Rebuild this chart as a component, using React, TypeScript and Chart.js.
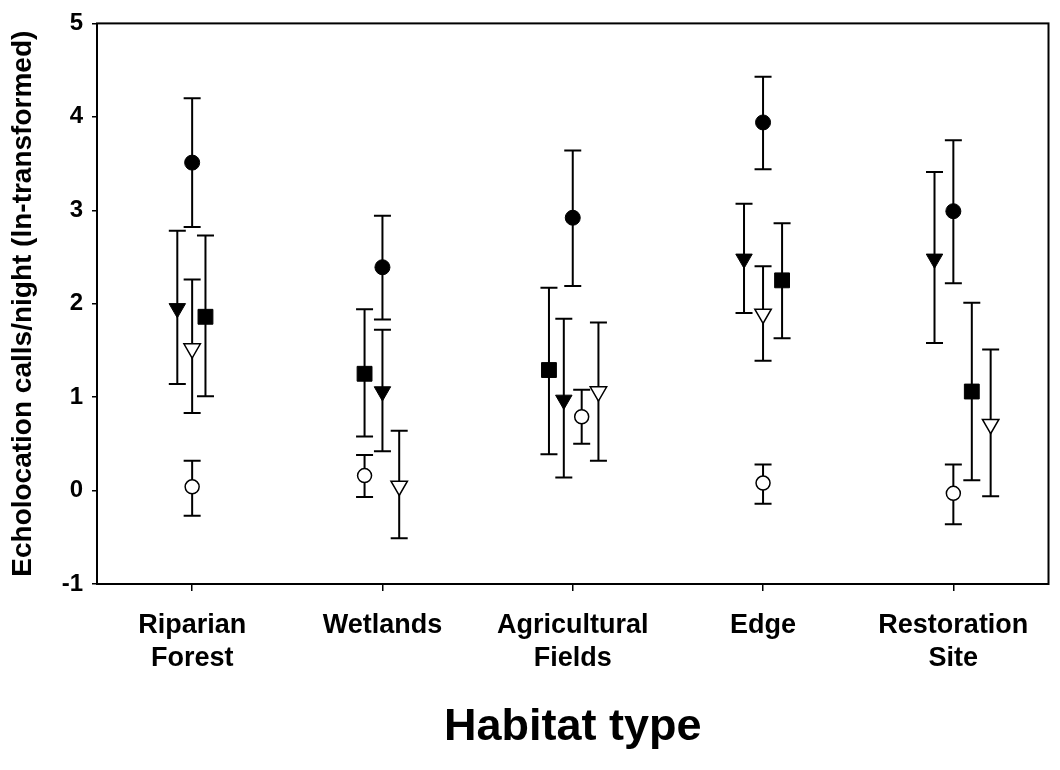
import React, { useEffect, useRef } from "react";
import { Chart, registerables } from "chart.js";

Chart.register(...registerables);

// Category (habitat) labels, multi-line
const categories: string[][] = [
  ["Riparian", "Forest"],
  ["Wetlands"],
  ["Agricultural", "Fields"],
  ["Edge"],
  ["Restoration", "Site"],
];

const yTicks = [-1, 0, 1, 2, 3, 4, 5];

// Series 1: filled circle
const filledCircleMean = [3.51, 2.39, 2.92, 3.94, 2.99];
const filledCircleLow = [2.82, 1.83, 2.19, 3.44, 2.22];
const filledCircleHigh = [4.2, 2.94, 3.64, 4.43, 3.75];

// Series 2: filled down-triangle
const filledTriangleMean = [1.95, 1.06, 0.97, 2.48, 2.48];
const filledTriangleLow = [1.14, 0.42, 0.14, 1.9, 1.58];
const filledTriangleHigh = [2.78, 1.72, 1.84, 3.07, 3.41];

// Series 3: open down-triangle
const openTriangleMean = [1.52, 0.05, 1.06, 1.89, 0.71];
const openTriangleLow = [0.83, -0.51, 0.32, 1.39, -0.06];
const openTriangleHigh = [2.26, 0.64, 1.8, 2.4, 1.51];

// Series 4: filled square
const filledSquareMean = [1.86, 1.25, 1.29, 2.25, 1.06];
const filledSquareLow = [1.01, 0.58, 0.39, 1.63, 0.11];
const filledSquareHigh = [2.73, 1.94, 2.17, 2.86, 2.01];

// Series 5: open circle
const openCircleMean = [0.04, 0.16, 0.79, 0.08, -0.03];
const openCircleLow = [-0.27, -0.07, 0.5, -0.14, -0.36];
const openCircleHigh = [0.32, 0.38, 1.08, 0.28, 0.28];

// Horizontal dodge of each series within a category (category units)
const filledCircleDodge = [0, 0, 0, 0, 0];
const filledTriangleDodge = [-0.078, 0, -0.047, -0.1, -0.099];
const openTriangleDodge = [0, 0.088, 0.135, 0, 0.196];
const filledSquareDodge = [0.07, -0.094, -0.125, 0.1, 0.097];
const openCircleDodge = [0, -0.094, 0.047, 0, 0];

const FONT = "'Liberation Sans', Arial, Helvetica, sans-serif";

function makePoints(mean: number[], dodge: number[]) {
  return mean.map((v, i) => ({ x: i + 1 + dodge[i], y: v }));
}

const errorBarPlugin = {
  id: "errorBars",
  beforeDatasetsDraw(chart: any) {
    const ctx = chart.ctx;
    const yScale = chart.scales.y;
    ctx.save();
    ctx.strokeStyle = "#000";
    ctx.lineWidth = 2;
    chart.data.datasets.forEach((ds: any, di: number) => {
      const meta = chart.getDatasetMeta(di);
      meta.data.forEach((pt: any, i: number) => {
        const x = pt.x;
        const yl = yScale.getPixelForValue(ds.errLow[i]);
        const yh = yScale.getPixelForValue(ds.errHigh[i]);
        const cap = 8.5;
        ctx.beginPath();
        ctx.moveTo(x, yl);
        ctx.lineTo(x, yh);
        ctx.moveTo(x - cap, yl);
        ctx.lineTo(x + cap, yl);
        ctx.moveTo(x - cap, yh);
        ctx.lineTo(x + cap, yh);
        ctx.stroke();
      });
    });
    ctx.restore();
  },
  afterDraw(chart: any) {
    const { ctx, chartArea } = chart;
    ctx.save();
    ctx.strokeStyle = "#000";
    ctx.lineWidth = 2;
    ctx.strokeRect(
      chartArea.left,
      chartArea.top,
      chartArea.right - chartArea.left,
      chartArea.bottom - chartArea.top
    );
    ctx.restore();
  },
};

export default function App() {
  const canvasRef = useRef<HTMLCanvasElement | null>(null);

  useEffect(() => {
    if (!canvasRef.current) return;
    const chart = new Chart(canvasRef.current, {
      type: "scatter",
      data: {
        datasets: [
          {
            label: "filled circle",
            data: makePoints(filledCircleMean, filledCircleDodge),
            errLow: filledCircleLow,
            errHigh: filledCircleHigh,
            pointStyle: "circle",
            pointRadius: 7.5,
            backgroundColor: "#000",
            borderColor: "#000",
            borderWidth: 1,
          },
          {
            label: "filled triangle",
            data: makePoints(filledTriangleMean, filledTriangleDodge),
            errLow: filledTriangleLow,
            errHigh: filledTriangleHigh,
            pointStyle: "triangle",
            pointRotation: 180,
            pointRadius: 9.5,
            backgroundColor: "#000",
            borderColor: "#000",
            borderWidth: 1,
          },
          {
            label: "open triangle",
            data: makePoints(openTriangleMean, openTriangleDodge),
            errLow: openTriangleLow,
            errHigh: openTriangleHigh,
            pointStyle: "triangle",
            pointRotation: 180,
            pointRadius: 9.5,
            backgroundColor: "#fff",
            borderColor: "#000",
            borderWidth: 1.5,
          },
          {
            label: "filled square",
            data: makePoints(filledSquareMean, filledSquareDodge),
            errLow: filledSquareLow,
            errHigh: filledSquareHigh,
            pointStyle: "rect",
            pointRadius: 10.5,
            backgroundColor: "#000",
            borderColor: "#000",
            borderWidth: 1,
          },
          {
            label: "open circle",
            data: makePoints(openCircleMean, openCircleDodge),
            errLow: openCircleLow,
            errHigh: openCircleHigh,
            pointStyle: "circle",
            pointRadius: 7,
            backgroundColor: "#fff",
            borderColor: "#000",
            borderWidth: 1.5,
          },
        ] as any,
      },
      options: {
        animation: false,
        responsive: false,
        devicePixelRatio: 1,
        layout: { padding: { top: 18, right: 2, bottom: 0, left: 0 } },
        plugins: {
          legend: { display: false },
          tooltip: { enabled: false },
        },
        scales: {
          x: {
            type: "linear",
            min: 0.5,
            max: 5.5,
            afterBuildTicks: (scale: any) => {
              scale.ticks = categories.map((_, i) => ({ value: i + 1 }));
            },
            afterFit: (scale: any) => {
              scale.height = 186;
            },
            border: { display: false },
            grid: {
              display: true,
              drawOnChartArea: false,
              drawTicks: true,
              tickLength: 7,
              color: "#000",
              lineWidth: 1.5,
            },
            ticks: {
              autoSkip: false,
              maxRotation: 0,
              minRotation: 0,
              padding: 18,
              color: "#000",
              font: { family: FONT, size: 27, weight: "bold", lineHeight: 1.22 },
              callback: (value: any) => categories[Math.round(Number(value)) - 1] ?? "",
            },
            title: {
              display: true,
              text: "Habitat type",
              color: "#000",
              font: { family: FONT, size: 45, weight: "bold", lineHeight: 1.2 },
              padding: { top: 0, bottom: 15 },
            },
          },
          y: {
            type: "linear",
            min: -1,
            max: 5,
            afterBuildTicks: (scale: any) => {
              scale.ticks = yTicks.map((v) => ({ value: v }));
            },
            afterFit: (scale: any) => {
              scale.width = 97;
            },
            border: { display: false },
            grid: {
              display: true,
              drawOnChartArea: false,
              drawTicks: true,
              tickLength: 5,
              color: "#000",
              lineWidth: 1.5,
            },
            ticks: {
              padding: 9,
              color: "#000",
              font: { family: FONT, size: 24, weight: "bold" },
              callback: (value: any) => String(value),
            },
            title: {
              display: true,
              text: "Echolocation calls/night (ln-transformed)",
              color: "#000",
              font: { family: FONT, size: 28, weight: "bold", lineHeight: 1.2 },
              padding: { top: 6, bottom: 0 },
            },
          },
        },
      } as any,
      plugins: [errorBarPlugin],
    });
    return () => chart.destroy();
  }, []);

  return (
    <div
      style={{
        position: "fixed",
        left: 0,
        top: 0,
        width: 1060,
        height: 770,
        background: "#fff",
      }}
    >
      <canvas ref={canvasRef} width={1060} height={770} style={{ width: 1060, height: 770 }} />
    </div>
  );
}
